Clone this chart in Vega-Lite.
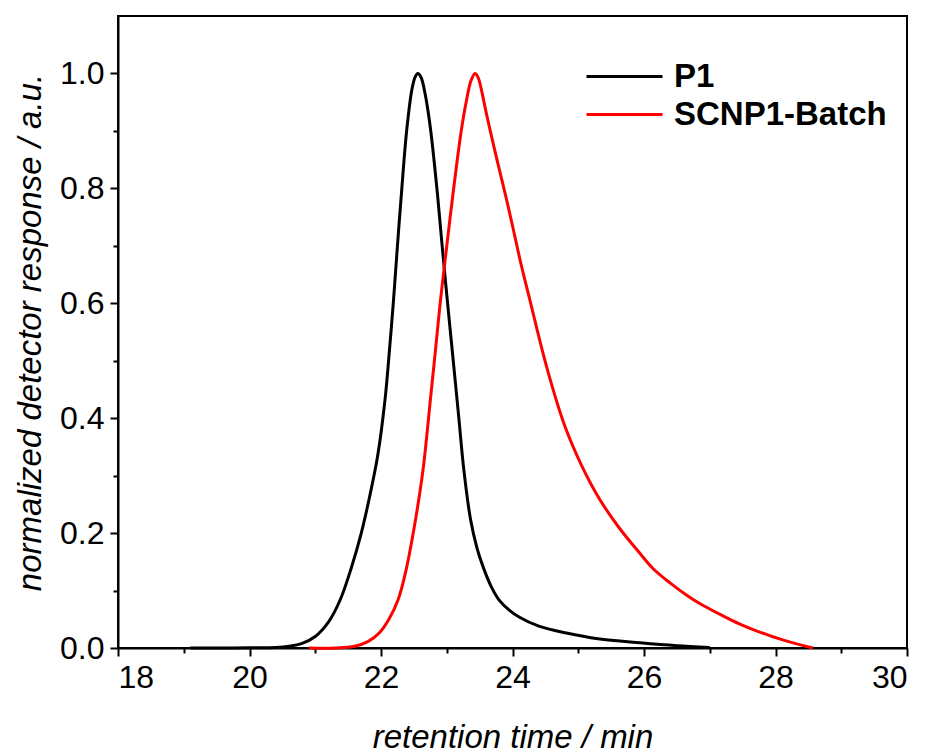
{
  "$schema": "https://vega.github.io/schema/vega-lite/v6.json",
  "width": 789,
  "height": 632,
  "autosize": {"type": "none"},
  "padding": {"left": 118, "top": 16, "right": 22, "bottom": 105},
  "background": "white",
  "config": {
    "font": "Liberation Sans",
    "view": {"stroke": "black", "strokeWidth": 2},
    "axis": {
      "grid": false,
      "domainColor": "black",
      "domainWidth": 2,
      "tickColor": "black",
      "tickWidth": 2,
      "tickSize": 8,
      "labelColor": "black",
      "labelFont": "Liberation Sans",
      "labelFontSize": 32,
      "titleFont": "Liberation Sans",
      "titleFontSize": 33,
      "titleFontWeight": "normal",
      "titleFontStyle": "italic",
      "titleColor": "black"
    }
  },
  "data": {
    "values": [
      {"t": 19.1, "v": 0, "s": "P1"},
      {"t": 19.5, "v": 0, "s": "P1"},
      {"t": 20.0, "v": 0.0005, "s": "P1"},
      {"t": 20.4, "v": 0.001, "s": "P1"},
      {"t": 20.6, "v": 0.003, "s": "P1"},
      {"t": 20.8, "v": 0.008, "s": "P1"},
      {"t": 21.0, "v": 0.02, "s": "P1"},
      {"t": 21.2, "v": 0.045, "s": "P1"},
      {"t": 21.38, "v": 0.084, "s": "P1"},
      {"t": 21.55, "v": 0.14, "s": "P1"},
      {"t": 21.7, "v": 0.2, "s": "P1"},
      {"t": 21.83, "v": 0.265, "s": "P1"},
      {"t": 21.95, "v": 0.335, "s": "P1"},
      {"t": 22.06, "v": 0.431, "s": "P1"},
      {"t": 22.13, "v": 0.52, "s": "P1"},
      {"t": 22.19, "v": 0.605, "s": "P1"},
      {"t": 22.25, "v": 0.7, "s": "P1"},
      {"t": 22.31, "v": 0.79, "s": "P1"},
      {"t": 22.39, "v": 0.9, "s": "P1"},
      {"t": 22.47, "v": 0.972, "s": "P1"},
      {"t": 22.52, "v": 0.994, "s": "P1"},
      {"t": 22.56, "v": 1.0, "s": "P1"},
      {"t": 22.61, "v": 0.993, "s": "P1"},
      {"t": 22.67, "v": 0.965, "s": "P1"},
      {"t": 22.75, "v": 0.906, "s": "P1"},
      {"t": 22.85, "v": 0.8, "s": "P1"},
      {"t": 22.93, "v": 0.7, "s": "P1"},
      {"t": 23.0, "v": 0.615, "s": "P1"},
      {"t": 23.09, "v": 0.51, "s": "P1"},
      {"t": 23.18, "v": 0.405, "s": "P1"},
      {"t": 23.26, "v": 0.31, "s": "P1"},
      {"t": 23.36, "v": 0.225, "s": "P1"},
      {"t": 23.46, "v": 0.174, "s": "P1"},
      {"t": 23.56, "v": 0.139, "s": "P1"},
      {"t": 23.68, "v": 0.106, "s": "P1"},
      {"t": 23.8, "v": 0.083, "s": "P1"},
      {"t": 23.95, "v": 0.066, "s": "P1"},
      {"t": 24.1, "v": 0.054, "s": "P1"},
      {"t": 24.4, "v": 0.038, "s": "P1"},
      {"t": 24.82, "v": 0.026, "s": "P1"},
      {"t": 25.3, "v": 0.016, "s": "P1"},
      {"t": 25.94, "v": 0.009, "s": "P1"},
      {"t": 26.5, "v": 0.004, "s": "P1"},
      {"t": 27.0, "v": 0.001, "s": "P1"},
      {"t": 20.9, "v": 0, "s": "SCNP1-Batch"},
      {"t": 21.3, "v": 0, "s": "SCNP1-Batch"},
      {"t": 21.6, "v": 0.003, "s": "SCNP1-Batch"},
      {"t": 21.8, "v": 0.011, "s": "SCNP1-Batch"},
      {"t": 21.98, "v": 0.027, "s": "SCNP1-Batch"},
      {"t": 22.12, "v": 0.05, "s": "SCNP1-Batch"},
      {"t": 22.26, "v": 0.084, "s": "SCNP1-Batch"},
      {"t": 22.38, "v": 0.135, "s": "SCNP1-Batch"},
      {"t": 22.49, "v": 0.2, "s": "SCNP1-Batch"},
      {"t": 22.57, "v": 0.255, "s": "SCNP1-Batch"},
      {"t": 22.65, "v": 0.32, "s": "SCNP1-Batch"},
      {"t": 22.75, "v": 0.431, "s": "SCNP1-Batch"},
      {"t": 22.83, "v": 0.52, "s": "SCNP1-Batch"},
      {"t": 22.9, "v": 0.6, "s": "SCNP1-Batch"},
      {"t": 22.98, "v": 0.68, "s": "SCNP1-Batch"},
      {"t": 23.1, "v": 0.795, "s": "SCNP1-Batch"},
      {"t": 23.22, "v": 0.9, "s": "SCNP1-Batch"},
      {"t": 23.3, "v": 0.953, "s": "SCNP1-Batch"},
      {"t": 23.37, "v": 0.988, "s": "SCNP1-Batch"},
      {"t": 23.43, "v": 1.0, "s": "SCNP1-Batch"},
      {"t": 23.48, "v": 0.992, "s": "SCNP1-Batch"},
      {"t": 23.53, "v": 0.97, "s": "SCNP1-Batch"},
      {"t": 23.59, "v": 0.937, "s": "SCNP1-Batch"},
      {"t": 23.65, "v": 0.906, "s": "SCNP1-Batch"},
      {"t": 23.77, "v": 0.847, "s": "SCNP1-Batch"},
      {"t": 23.89, "v": 0.79, "s": "SCNP1-Batch"},
      {"t": 24.0, "v": 0.735, "s": "SCNP1-Batch"},
      {"t": 24.12, "v": 0.673, "s": "SCNP1-Batch"},
      {"t": 24.27, "v": 0.603, "s": "SCNP1-Batch"},
      {"t": 24.52, "v": 0.489, "s": "SCNP1-Batch"},
      {"t": 24.8, "v": 0.385, "s": "SCNP1-Batch"},
      {"t": 25.05, "v": 0.318, "s": "SCNP1-Batch"},
      {"t": 25.33, "v": 0.258, "s": "SCNP1-Batch"},
      {"t": 25.63, "v": 0.208, "s": "SCNP1-Batch"},
      {"t": 25.9, "v": 0.17, "s": "SCNP1-Batch"},
      {"t": 26.14, "v": 0.138, "s": "SCNP1-Batch"},
      {"t": 26.4, "v": 0.113, "s": "SCNP1-Batch"},
      {"t": 26.7, "v": 0.088, "s": "SCNP1-Batch"},
      {"t": 26.9, "v": 0.074, "s": "SCNP1-Batch"},
      {"t": 27.2, "v": 0.056, "s": "SCNP1-Batch"},
      {"t": 27.45, "v": 0.042, "s": "SCNP1-Batch"},
      {"t": 27.66, "v": 0.032, "s": "SCNP1-Batch"},
      {"t": 27.9, "v": 0.022, "s": "SCNP1-Batch"},
      {"t": 28.2, "v": 0.011, "s": "SCNP1-Batch"},
      {"t": 28.57, "v": 0, "s": "SCNP1-Batch"}
    ]
  },
  "layer": [
    {
      "mark": {"type": "line", "strokeWidth": 0, "opacity": 0},
      "encoding": {
        "x": {
          "field": "t", "type": "quantitative",
          "scale": {"domain": [18, 30], "nice": false, "zero": false},
          "axis": {"orient": "bottom", "values": [19, 21, 23, 25, 27, 29], "labels": false, "tickSize": 5, "domain": false, "title": null}
        },
        "y": {
          "field": "v", "type": "quantitative",
          "scale": {"domain": [0, 1.1], "nice": false},
          "axis": {"orient": "left", "values": [0.1, 0.3, 0.5, 0.7, 0.9], "labels": false, "tickSize": 5, "domain": false, "title": null}
        },
        "detail": {"field": "s"}
      }
    },
    {
      "mark": {"type": "line", "strokeWidth": 3, "interpolate": "catmull-rom"},
      "encoding": {
        "x": {
          "field": "t", "type": "quantitative",
          "scale": {"domain": [18, 30], "nice": false, "zero": false},
          "axis": {"orient": "bottom", "values": [18, 20, 22, 24, 26, 28, 30], "labelPadding": 6, "title": "retention time / min", "titlePadding": 28}
        },
        "y": {
          "field": "v", "type": "quantitative",
          "scale": {"domain": [0, 1.1], "nice": false},
          "axis": {"orient": "left", "values": [0, 0.2, 0.4, 0.6, 0.8, 1.0], "format": ".1f", "labelPadding": 6, "title": "normalized detector response / a.u.", "titlePadding": 12}
        },
        "color": {
          "field": "s", "type": "nominal",
          "scale": {"domain": ["P1", "SCNP1-Batch"], "range": ["#000000", "#ff0000"]},
          "legend": {
            "title": null,
            "orient": "none",
            "legendX": 467,
            "legendY": 40,
            "symbolType": "M -1 0 H 3",
            "symbolSize": 1444,
            "symbolStrokeWidth": 3,
            "labelFont": "Liberation Sans",
            "labelFontSize": 33,
            "labelFontWeight": "bold",
            "labelColor": "black",
            "labelOffset": 48,
            "labelLimit": 400,
            "rowPadding": -10
          }
        }
      }
    }
  ],
  "resolve": {"axis": {"x": "independent", "y": "independent"}}
}
